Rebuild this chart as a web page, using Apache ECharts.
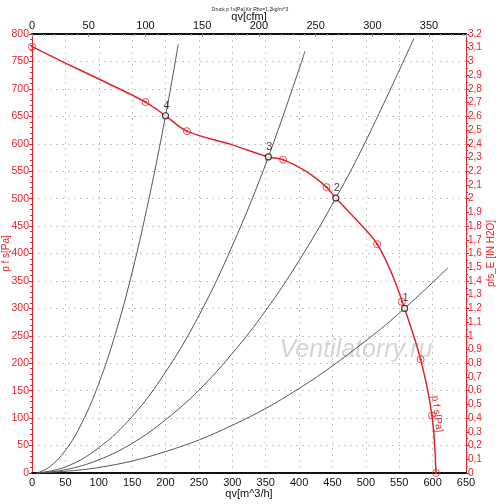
<!DOCTYPE html>
<html>
<head>
<meta charset="utf-8">
<script src="https://cdn.jsdelivr.net/npm/echarts@6/dist/echarts.min.js"></script>
<style>
  html, body { margin: 0; padding: 0; background: #fff; }
  #main { width: 500px; height: 504px; }
</style>
</head>
<body>
<div id="main"></div>
<script>
// fan curve p f s [Pa] over qv [m^3/h]
var fanQv = [0, 50, 100, 170, 200, 232, 300, 354, 376, 410, 441, 455, 490, 517, 540, 558, 582, 599, 605];
var fanP  = [777, 747, 718, 676, 651, 623, 598, 576, 571, 550, 521, 501, 456, 417, 360, 300, 207, 105, 0];

// measured points on the fan curve (red circles)
var markQv = [0, 170, 232, 376, 441, 517, 554, 582, 599, 605];
var markP  = [777, 676, 623, 571, 521, 417, 312, 207, 105, 0];

// operating points 1..4
var opNames = ['1', '2', '3', '4'];
var opQv = [558, 455, 354, 200];
var opP  = [300, 501, 576, 651];

// system curves
var sys4Qv = [7, 25, 50, 75, 100, 125, 150, 175, 200, 219];
var sys4P  = [0, 10, 41, 92, 163, 254, 366, 499, 651, 781];
var sys3Qv = [7, 50, 100, 150, 200, 250, 300, 354, 409];
var sys3P  = [0, 11, 46, 103, 184, 287, 414, 576, 769];
var sys2Qv = [7, 50, 100, 150, 200, 250, 300, 350, 400, 455, 500, 572];
var sys2P  = [0, 6, 24, 54, 97, 151, 218, 296, 387, 501, 605, 792];
var sys1Qv = [7, 100, 200, 300, 400, 500, 558, 623];
var sys1P  = [0, 10, 39, 87, 154, 241, 300, 374];

var qvMax = 650;        // m^3/h
var cfmMax = 650 / 1.699;
var paMax = 800;
var inH2OMax = 3.2;

var red = '#e3232b';
var font = 'Liberation Sans, Arial, sans-serif';

function zip(xs, ys) {
    var out = [];
    for (var i = 0; i < xs.length; i++) out.push([xs[i], ys[i]]);
    return out;
}

function sysSeries(xs, ys) {
    return {
        type: 'line',
        data: zip(xs, ys),
        smooth: 0.4,
        symbol: 'none',
        lineStyle: { color: '#555', width: 1 },
        z: 2,
        silent: true
    };
}

var opData = [];
for (var i = 0; i < opNames.length; i++) opData.push([opQv[i], opP[i], opNames[i]]);

var chart = echarts.init(document.getElementById('main'));
chart.setOption({
    animation: false,
    backgroundColor: '#fff',
    textStyle: { fontFamily: font },
    title: {
        text: 'Druck p f s[Pa] für Rho=1,2kg/m^3',
        left: 'center',
        top: 2,
        textStyle: { fontSize: 5, fontWeight: 'normal', color: '#222', fontFamily: font }
    },
    grid: { left: 32, right: 34, top: 34, bottom: 31, outerBoundsMode: 'none', containLabel: false },
    xAxis: [{
        type: 'value',
        position: 'bottom',
        min: 0, max: qvMax, interval: 50,
        name: 'qv[m^3/h]',
        nameLocation: 'middle',
        nameGap: 15,
        nameMoveOverlap: false,
        nameTextStyle: { color: '#111', fontSize: 11, fontFamily: font },
        axisLine: { onZero: false, lineStyle: { color: '#111', width: 2 } },
        axisTick: { show: false },
        axisLabel: { color: '#111', fontSize: 11, margin: 4, fontFamily: font, showMaxLabel: true },
        splitLine: { show: true, lineStyle: { color: '#c8c8c8', type: [2, 4], width: 1 } }
    }, {
        type: 'value',
        position: 'top',
        min: 0, max: cfmMax, interval: 50,
        name: 'qv[cfm]',
        nameLocation: 'middle',
        nameGap: 12,
        nameMoveOverlap: false,
        nameTextStyle: { color: '#111', fontSize: 11, fontFamily: font },
        axisLine: { onZero: false, lineStyle: { color: '#111', width: 2 } },
        axisTick: { show: true, inside: true, length: 3, lineStyle: { color: '#999' } },
        minorTick: { show: true, splitNumber: 5, length: 2, lineStyle: { color: '#aaa' } },
        axisLabel: {
            color: '#111', fontSize: 11, margin: 3, fontFamily: font,
            formatter: function (v) { return Math.abs(v % 50) < 1e-6 ? String(v) : ''; }
        },
        splitLine: { show: false }
    }],
    yAxis: [{
        type: 'value',
        position: 'left',
        min: 0, max: paMax, interval: 50,
        name: 'p f s[Pa]',
        nameLocation: 'middle',
        nameRotate: 90,
        nameGap: 21,
        nameMoveOverlap: false,
        nameTextStyle: { color: red, fontSize: 10, fontFamily: font },
        axisLine: { onZero: false, lineStyle: { color: red, width: 1 } },
        axisTick: { show: true, length: 3, lineStyle: { color: red } },
        minorTick: { show: true, splitNumber: 5, length: 2, lineStyle: { color: red } },
        axisLabel: { color: red, fontSize: 10.5, margin: 3, fontFamily: font },
        splitLine: { show: true, lineStyle: { color: '#c8c8c8', type: [2, 4], width: 1 } }
    }, {
        type: 'value',
        position: 'right',
        min: 0, max: inH2OMax, interval: 0.1,
        name: 'pfs_E [IN H2O]',
        nameLocation: 'middle',
        nameRotate: 90,
        nameGap: 20,
        nameMoveOverlap: false,
        nameTextStyle: { color: red, fontSize: 10, fontFamily: font },
        axisLine: { onZero: false, lineStyle: { color: red, width: 1 } },
        axisTick: { show: true, length: 3, lineStyle: { color: red } },
        minorTick: { show: true, splitNumber: 2, length: 2, lineStyle: { color: red } },
        axisLabel: {
            color: red, fontSize: 10, margin: 2, fontFamily: font,
            formatter: function (v) { return String(Math.round(v * 10) / 10).replace('.', ','); }
        },
        splitLine: { show: false }
    }],
    series: [
        sysSeries(sys4Qv, sys4P),
        sysSeries(sys3Qv, sys3P),
        sysSeries(sys2Qv, sys2P),
        sysSeries(sys1Qv, sys1P),
        {
            type: 'line',
            data: zip(fanQv, fanP),
            smooth: 0.35,
            symbol: 'none',
            lineStyle: { color: red, width: 1.5 },
            z: 3
        },
        {
            type: 'scatter',
            data: zip(markQv, markP),
            symbol: 'circle',
            symbolSize: 7,
            itemStyle: { color: 'rgba(255,255,255,0)', borderColor: red, borderWidth: 1 },
            z: 4
        },
        {
            type: 'scatter',
            data: zip(markQv, markP),
            symbol: 'circle',
            symbolSize: 2.5,
            itemStyle: { color: red },
            z: 4
        },
        {
            type: 'scatter',
            data: opData,
            symbol: 'circle',
            symbolSize: 6,
            itemStyle: { color: '#fff', borderColor: '#111', borderWidth: 1.2 },
            label: {
                show: true,
                position: 'top',
                distance: 1,
                offset: [1, 0],
                color: '#111',
                fontSize: 11,
                fontFamily: font,
                formatter: function (p) { return p.data[2]; }
            },
            z: 5
        }
    ],
    graphic: [{
        type: 'text',
        x: 356, y: 350,
        z: 1,
        style: {
            text: 'Ventilatorry.ru',
            font: 'italic 25px ' + font,
            fill: '#d4d4d4',
            align: 'center',
            verticalAlign: 'middle',
            shadowColor: 'rgba(120,120,120,0.5)',
            shadowOffsetX: 1,
            shadowOffsetY: 1,
            shadowBlur: 1
        }
    }, {
        type: 'text',
        x: 437, y: 414,
        rotation: -1.45,
        z: 10,
        style: {
            text: 'p f s[Pa]',
            font: '10px ' + font,
            fill: red,
            align: 'center',
            verticalAlign: 'middle'
        }
    }]
});
</script>
</body>
</html>
